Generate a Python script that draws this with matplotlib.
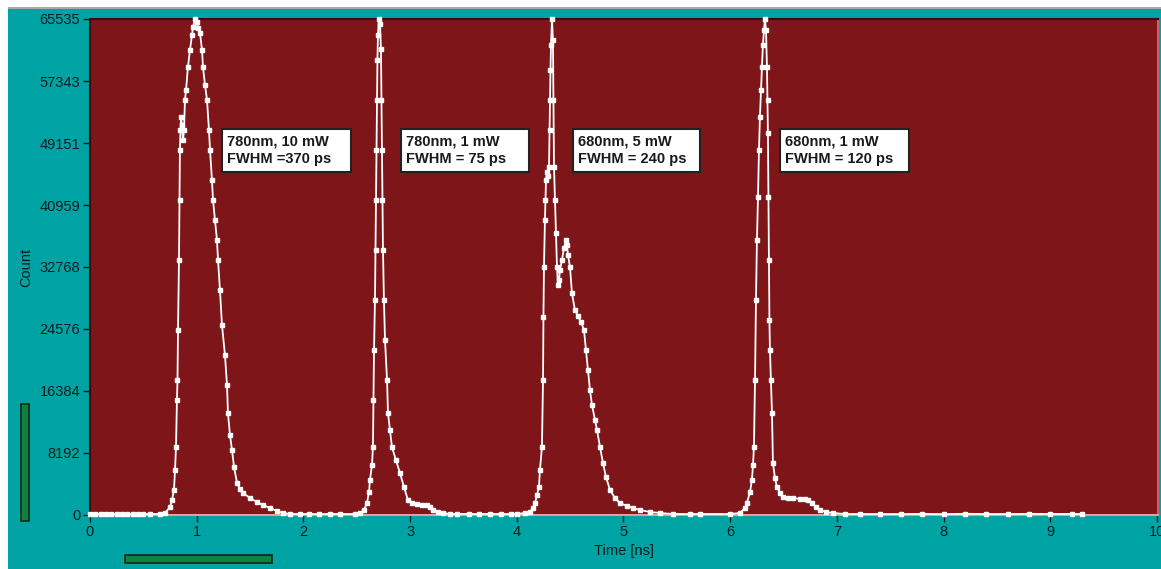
import matplotlib.pyplot as plt
from matplotlib.patches import Rectangle
import numpy as np

plt.rcParams['font.family'] = ['Liberation Sans', 'DejaVu Sans']

# baseline before the first pulse
t_base0 = [0.00, 0.05, 0.10, 0.15, 0.20, 0.25, 0.30, 0.35, 0.40, 0.45, 0.50]
c_base0 = [150, 120, 180, 140, 110, 170, 130, 150, 120, 160, 140]

# 780 nm, 10 mW
t_p1 = [0.562, 0.656, 0.703, 0.750, 0.769, 0.787, 0.797, 0.806, 0.815, 0.820,
        0.825, 0.834, 0.839, 0.843, 0.848, 0.853, 0.862, 0.872, 0.881, 0.890,
        0.900, 0.918, 0.937, 0.956, 0.965, 0.984, 1.003, 1.012, 1.031, 1.050,
        1.059, 1.078, 1.097, 1.115, 1.125, 1.143, 1.153, 1.172, 1.190, 1.200,
        1.218, 1.237, 1.265, 1.284, 1.293, 1.312, 1.331, 1.350, 1.378, 1.406,
        1.434, 1.500, 1.565, 1.621, 1.687, 1.753, 1.809, 1.874, 1.968]
c_p1 = [132, 132, 264, 1057, 1981, 3302, 5944, 8982, 15191, 17834,
        24439, 33686, 41612, 48217, 50859, 52576, 51519, 49538, 50859, 54822,
        56143, 59181, 61427, 63408, 64465, 65535, 65125, 64333, 63672, 61427,
        59181, 56803, 54822, 50859, 48217, 44254, 41612, 38970, 36328, 33686,
        29723, 25099, 21136, 17173, 13474, 10568, 8587, 6341, 4227, 3435,
        2906, 2246, 1717, 1321, 925, 528, 264, 132, 132]

t_base1 = [2.05, 2.15, 2.25]
c_base1 = [140, 110, 150]

# 780 nm, 1 mW
t_p2 = [2.343, 2.484, 2.530, 2.568, 2.596, 2.615, 2.624, 2.643, 2.652, 2.657,
        2.662, 2.671, 2.676, 2.680, 2.685, 2.690, 2.694, 2.699, 2.708, 2.718,
        2.727, 2.732, 2.737, 2.741, 2.746, 2.755, 2.765, 2.784, 2.793, 2.812,
        2.830, 2.868, 2.905, 2.943, 2.980, 3.018, 3.065, 3.111, 3.158, 3.187,
        3.215, 3.262, 3.308, 3.374, 3.440]
c_p2 = [132, 132, 264, 660, 1585, 3038, 4624, 6605, 8982, 15191,
        21796, 28401, 35006, 41612, 48217, 54822, 60106, 63408, 65535, 64861,
        61559, 54822, 48217, 41612, 35006, 28401, 23117, 17834, 13474, 11229,
        8982, 7265, 5548, 3699, 1981, 1585, 1453, 1321, 1321, 1057,
        660, 396, 264, 132, 132]

t_base2 = [3.55, 3.65, 3.75, 3.85, 3.95]
c_base2 = [150, 120, 160, 130, 140]

# 680 nm, 5 mW
t_p3 = [4.002, 4.077, 4.123, 4.152, 4.171, 4.189, 4.208, 4.217, 4.236, 4.246,
        4.250, 4.255, 4.264, 4.269, 4.274, 4.283, 4.292, 4.302, 4.307, 4.311,
        4.316, 4.321, 4.330, 4.339, 4.344, 4.349, 4.358, 4.367, 4.377, 4.386,
        4.396, 4.405, 4.424, 4.442, 4.461, 4.471, 4.480, 4.499, 4.517, 4.545,
        4.574, 4.602, 4.630, 4.649, 4.667, 4.686, 4.705, 4.733, 4.752, 4.780,
        4.808, 4.836, 4.874, 4.920, 4.967, 5.033, 5.089, 5.155, 5.248, 5.342,
        5.464, 5.623]
c_p3 = [132, 264, 396, 925, 1585, 2642, 3699, 5944, 8982, 17834,
        26156, 32761, 38970, 41612, 44254, 45311, 44783, 45971, 50859, 54822,
        58785, 62088, 65535, 62748, 54822, 45971, 41612, 37252, 32761, 30383,
        31044, 32365, 33686, 35271, 36328, 35667, 34346, 32761, 29327, 27081,
        26288, 25496, 24439, 21796, 19154, 16513, 14531, 12550, 11229, 8983,
        6869, 5020, 3303, 2246, 1585, 1189, 925, 660, 396, 264,
        132, 132]

# 680 nm, 1 mW
t_p4 = [5.717, 5.998, 6.092, 6.139, 6.157, 6.186, 6.204, 6.214, 6.223, 6.233,
        6.242, 6.251, 6.261, 6.270, 6.279, 6.289, 6.298, 6.307, 6.317, 6.326,
        6.336, 6.345, 6.350, 6.354, 6.359, 6.364, 6.368, 6.373, 6.382, 6.392,
        6.401, 6.420, 6.438, 6.467, 6.495, 6.542, 6.589, 6.654, 6.701, 6.729,
        6.767, 6.804, 6.842, 6.898, 6.963, 7.076, 7.217]
c_p4 = [132, 132, 264, 925, 1585, 3038, 4624, 6605, 8982, 17834,
        28401, 36328, 42008, 48217, 52576, 56143, 59181, 62088, 64069, 65535,
        64069, 59181, 54822, 50463, 42008, 33686, 25760, 21796, 17834, 13474,
        6869, 4888, 3699, 2906, 2378, 2246, 2246, 2114, 2114, 1981,
        1585, 1057, 660, 396, 264, 132, 132]

t_base3 = [7.4, 7.6, 7.8, 8.0, 8.2, 8.4, 8.6, 8.8, 9.0, 9.2, 9.3]
c_base3 = [140, 120, 150, 110, 160, 130, 120, 150, 140, 120, 130]

yticks = [0, 8192, 16384, 24576, 32768, 40959, 49151, 57343, 65535]
xticks = list(range(11))

labels = ["780nm, 10 mW\nFWHM =370 ps", "780nm, 1 mW\nFWHM = 75 ps",
          "680nm, 5 mW\nFWHM = 240 ps", "680nm, 1 mW\nFWHM = 120 ps"]

t = np.array(t_base0 + t_p1 + t_base1 + t_p2 + t_base2 + t_p3 + t_p4 + t_base3)
c = np.array(c_base0 + c_p1 + c_base1 + c_p2 + c_base2 + c_p3 + c_p4 + c_base3)

teal = '#00a3a3'
red = '#7e1518'
txt = '#0b1c1e'

fig = plt.figure(figsize=(11.61, 5.69), dpi=100, facecolor='white')
# teal panel and its top border
fig.patches.append(Rectangle((8 / 1161, 0), 1 - 8 / 1161, 1 - 9 / 569,
                             transform=fig.transFigure, facecolor=teal,
                             edgecolor='none', zorder=-10))
fig.patches.append(Rectangle((8 / 1161, 1 - 9 / 569), 1 - 8 / 1161, 2 / 569,
                             transform=fig.transFigure, facecolor='#a8a8a8',
                             edgecolor='none', zorder=-10))

ax = fig.add_axes([90 / 1161, 54 / 569, 1068 / 1161, 496 / 569])
ax.set_zorder(1)
ax.set_facecolor(red)
ax.plot(t, c, color='white', lw=1.3, marker='s', ms=2.6, mec='white',
        mfc='white', clip_on=False, zorder=3)

ax.set_xlim(0, 10.01)
ax.set_ylim(0, 65535)
ax.set_xticks(xticks)
ax.set_yticks(yticks)
ax.set_xticklabels([str(v) for v in xticks])
ax.set_yticklabels([str(v) for v in yticks])
ax.tick_params(direction='out', length=5, width=1, colors=txt,
               labelsize=10.5, pad=2)

ax.spines['left'].set_color('#3a0d0d')
ax.spines['top'].set_color('#3a0d0d')
ax.spines['bottom'].set_color('#f09a9a')
ax.spines['right'].set_color('#d06060')
for s in ax.spines.values():
    s.set_linewidth(1.5)

ax.set_xlabel('Time [ns]', fontsize=10.5, color=txt, labelpad=4)
ax.set_ylabel('Count', fontsize=10.5, color=txt, labelpad=4.5)

# annotation boxes (axes fraction)
box_x = [0.1236, 0.2912, 0.4522, 0.6461]
box_w = [0.1208, 0.1199, 0.1190, 0.1208]
for bx, bw, lab in zip(box_x, box_w, labels):
    ax.add_patch(Rectangle((bx, 0.6915), bw, 0.0867, transform=ax.transAxes,
                           facecolor='white', edgecolor='#222222', lw=1.5,
                           zorder=5))
    ax.text(bx + 5 / 1068, 0.6915 + 0.0867 / 2, lab, transform=ax.transAxes,
            ha='left', va='center', fontsize=10.5, fontweight='bold',
            color='#1a1a1a', linespacing=1.3, zorder=6)

# green slider bars
fig.patches.append(Rectangle((21 / 1161, 48 / 569), 8 / 1161, 117 / 569,
                             transform=fig.transFigure, facecolor='#128040',
                             edgecolor='#0a2a14', lw=1.2, zorder=2))
fig.patches.append(Rectangle((125 / 1161, 6 / 569), 147 / 1161, 8 / 569,
                             transform=fig.transFigure, facecolor='#128040',
                             edgecolor='#0a2a14', lw=1.2, zorder=2))

plt.savefig('out.png', dpi=100, facecolor='white')
